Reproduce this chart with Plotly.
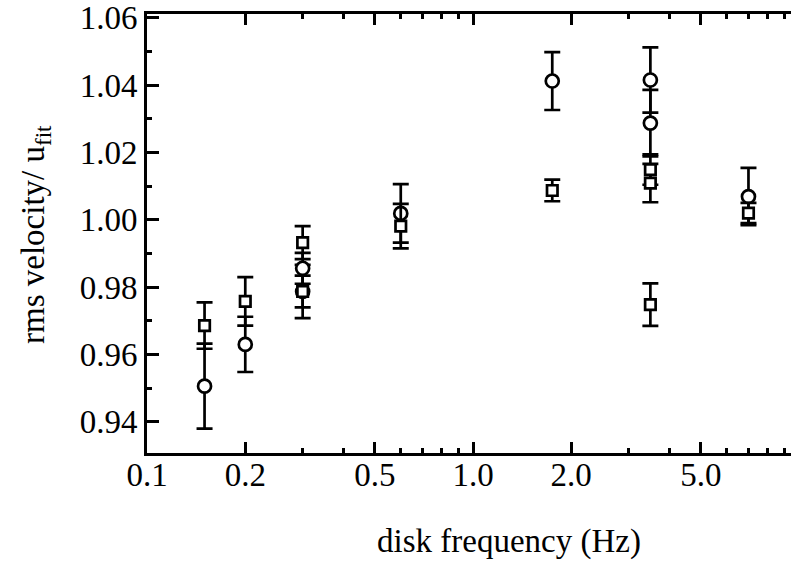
import plotly.graph_objects as go

# Circles series
circ_x = [0.15, 0.2, 0.3, 0.3, 0.6, 1.75, 3.5, 3.5, 7.0]
circ_y = [0.9506, 0.9630, 0.9856, 0.9787, 1.0019, 1.0412, 1.0415, 1.0287, 1.0069]
circ_err = [0.0126, 0.0082, 0.0046, 0.0079, 0.0087, 0.0086, 0.0097, 0.0099, 0.0085]

# Squares series
sq_x = [0.15, 0.2, 0.3, 0.3, 0.6, 1.75, 3.5, 3.5, 3.5, 7.0]
sq_y = [0.9686, 0.9758, 0.9932, 0.9787, 0.9981, 1.0087, 1.0149, 1.0109, 0.9748, 1.0020]
sq_err = [0.0069, 0.0072, 0.0049, 0.0047, 0.0066, 0.0032, 0.0045, 0.0057, 0.0063, 0.0030]

x_major = [0.1, 0.2, 0.5, 1.0, 2.0, 5.0]
x_major_text = ["0.1", "0.2", "0.5", "1.0", "2.0", "5.0"]
x_minor = [0.3, 0.4, 0.6, 0.7, 0.8, 0.9, 3, 4, 6, 7, 8, 9]
y_major = [0.94, 0.96, 0.98, 1.00, 1.02, 1.04, 1.06]
y_major_text = ["0.94", "0.96", "0.98", "1.00", "1.02", "1.04", "1.06"]
y_minor = [0.95, 0.97, 0.99, 1.01, 1.03, 1.05]

FONT = "Liberation Serif"
LW = 2.7

fig = go.Figure()
fig.add_trace(go.Scatter(
    x=circ_x, y=circ_y, mode="markers",
    marker=dict(symbol="circle", size=13, color="white", line=dict(color="black", width=LW)),
    error_y=dict(type="data", array=circ_err, visible=True, color="black", thickness=LW, width=8),
    showlegend=False))
fig.add_trace(go.Scatter(
    x=sq_x, y=sq_y, mode="markers",
    marker=dict(symbol="square", size=10.5, color="white", line=dict(color="black", width=LW)),
    error_y=dict(type="data", array=sq_err, visible=True, color="black", thickness=LW, width=8),
    showlegend=False))

yr = [0.93075, 1.0611]
fig.update_layout(
    width=791, height=565,
    margin=dict(l=147, r=0, t=12, b=112),
    paper_bgcolor="white", plot_bgcolor="white",
    font=dict(family=FONT, size=33, color="black"),
    xaxis=dict(
        type="log", range=[-1.0005, 0.9756],
        tickmode="array", tickvals=x_major, ticktext=x_major_text,
        ticks="inside", ticklen=11, tickwidth=LW, tickcolor="black",
        minor=dict(tickmode="array", tickvals=x_minor, ticks="inside", ticklen=5,
                   tickwidth=LW, tickcolor="black", showgrid=False),
        showline=True, linewidth=LW, linecolor="black", mirror="ticks",
        showgrid=False, zeroline=False,
        ticklabeloverflow="allow", ticklabelstandoff=-9,
        tickfont=dict(family=FONT, size=33, color="black"),
    ),
    yaxis=dict(
        range=yr,
        tickmode="array", tickvals=y_major, ticktext=y_major_text,
        ticks="inside", ticklen=12, tickwidth=LW, tickcolor="black",
        minor=dict(tickmode="array", tickvals=y_minor, ticks="inside", ticklen=5,
                   tickwidth=LW, tickcolor="black", showgrid=False),
        showline=True, linewidth=LW, linecolor="black",
        showgrid=False, zeroline=False,
        ticklabeloverflow="allow",
        tickfont=dict(family=FONT, size=33, color="black"),
    ),
    yaxis2=dict(
        overlaying="y", side="right", range=yr,
        tickmode="array", tickvals=y_major, showticklabels=False,
        ticks="inside", ticklen=3, tickwidth=LW, tickcolor="black",
        showline=False, showgrid=False, zeroline=False,
    ),
    annotations=[
        dict(text="disk frequency (Hz)", xref="paper", yref="paper",
             x=(509 - 147) / 644, y=-(542 - 453) / 441, xanchor="center", yanchor="middle",
             showarrow=False, font=dict(family=FONT, size=33, color="black")),
        dict(text="rms velocity/ u<sub>fit</sub>", xref="paper", yref="paper",
             x=(36 - 147) / 644, y=(453 - 234) / 441, xanchor="center", yanchor="middle",
             textangle=-90, showarrow=False, font=dict(family=FONT, size=33, color="black")),
    ],
)

fig.write_html("out.html", config={"displayModeBar": False})
